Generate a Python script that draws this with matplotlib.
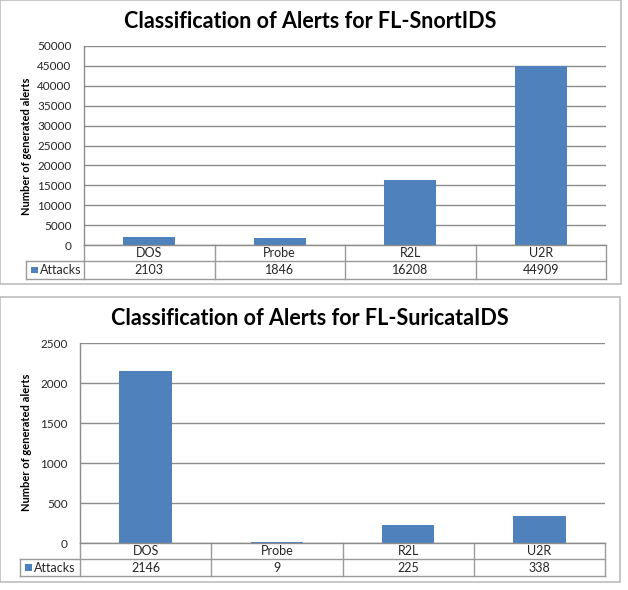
import matplotlib
matplotlib.use("Agg")
import matplotlib.pyplot as plt
from matplotlib.patches import Rectangle
from matplotlib.lines import Line2D
import matplotlib.transforms as mtransforms

plt.rcParams['font.family'] = ['Lato', 'DejaVu Sans']

categories = ["DOS", "Probe", "R2L", "U2R"]
series_name = "Attacks"
snort_values = [2103, 1846, 16208, 44909]
suricata_values = [2146, 9, 225, 338]
snort_title = "Classification of Alerts for FL-SnortIDS"
suricata_title = "Classification of Alerts for FL-SuricataIDS"
ylabel = "Number of generated alerts"
snort_ticks = [0, 5000, 10000, 15000, 20000, 25000, 30000, 35000, 40000, 45000, 50000]
suricata_ticks = [0, 500, 1000, 1500, 2000, 2500]

W, H = 628, 590
BAR = "#4F81BD"
GRID = "#8C8C8C"
TXT = "#262626"

fig = plt.figure(figsize=(W / 100, H / 100), dpi=100)


def fx(x):
    return x / W


def fy(y):
    return 1 - y / H


def chart(box, title, title_y, plot_px, row_px, label_left, values, ticks, ylab_y):
    bx0, by0, bx1, by1 = box
    fig.patches.append(Rectangle((fx(bx0), fy(by1)), fx(bx1) - fx(bx0), fy(by0) - fy(by1),
                                 transform=fig.transFigure, fill=False,
                                 edgecolor="#BDBDBD", linewidth=1.2))
    fig.text(fx((bx0 + bx1) / 2), fy(title_y), title, ha="center", va="center",
             fontsize=15.5, fontweight="bold", color="black")
    fig.text(fx(27), fy(ylab_y), ylabel, rotation=90, ha="center", va="center",
             fontsize=8, fontweight="bold", color="black")

    x0, x1, y0, y1 = plot_px
    ax = fig.add_axes([fx(x0), fy(y1), fx(x1) - fx(x0), fy(y0) - fy(y1)])
    xs = list(range(len(categories)))
    ax.bar(xs, values, width=0.4, color=BAR, zorder=3)
    ax.set_xlim(-0.5, len(categories) - 0.5)
    ax.set_ylim(ticks[0], ticks[-1])
    ax.set_yticks(ticks)
    ax.set_yticklabels([str(t) for t in ticks], fontsize=8.5, color=TXT)
    ax.tick_params(axis="y", length=0, pad=9)
    ax.set_xticks([])
    for s in ["top", "right", "bottom"]:
        ax.spines[s].set_visible(False)
    ax.spines["left"].set_color(GRID)
    ax.spines["left"].set_linewidth(1)
    ax.yaxis.grid(True, color=GRID, linewidth=1, zorder=0)
    ax.set_axisbelow(True)

    r0, r1, r2 = row_px
    tr = mtransforms.blended_transform_factory(ax.transData, fig.transFigure)
    trf = fig.transFigure
    lw = 1
    tc = "#9A9A9A"
    fig.add_artist(Line2D([fx(x0), fx(x1)], [fy(r0), fy(r0)], color=GRID, lw=lw, transform=trf))
    fig.add_artist(Line2D([fx(label_left), fx(x1)], [fy(r1), fy(r1)], color=tc, lw=lw, transform=trf))
    fig.add_artist(Line2D([fx(label_left), fx(x1)], [fy(r2), fy(r2)], color=tc, lw=lw, transform=trf))
    fig.add_artist(Line2D([fx(label_left), fx(label_left)], [fy(r1), fy(r2)], color=tc, lw=lw, transform=trf))
    for b in [-0.5 + i for i in range(len(categories) + 1)]:
        ax.add_artist(Line2D([b, b], [fy(r0), fy(r2)], color=tc, lw=lw, transform=tr, clip_on=False))
    for i, (c, v) in enumerate(zip(categories, values)):
        ax.text(i, fy((r0 + r1) / 2), c, transform=tr, ha="center", va="center",
                fontsize=9, color=TXT, clip_on=False)
        ax.text(i, fy((r1 + r2) / 2), str(v), transform=tr, ha="center", va="center",
                fontsize=9, color=TXT, clip_on=False)
    ym = (r1 + r2) / 2
    fig.patches.append(Rectangle((fx(label_left + 5), fy(ym + 3.2)), fx(6.5), 6.5 / H,
                                 transform=trf, facecolor=BAR, edgecolor="none"))
    fig.text(fx(label_left + 14), fy(ym), series_name, ha="left", va="center",
             fontsize=9, color=TXT)
    return ax


chart((0, 0, 621, 284), snort_title, 21, (84, 606, 46, 245), (245, 261, 279), 26,
      snort_values, snort_ticks, 146)
chart((0, 297, 620, 582), suricata_title, 318, (80, 605, 343, 543), (543, 559, 576), 20,
      suricata_values, suricata_ticks, 442)

fig.savefig("out.png", dpi=100)
